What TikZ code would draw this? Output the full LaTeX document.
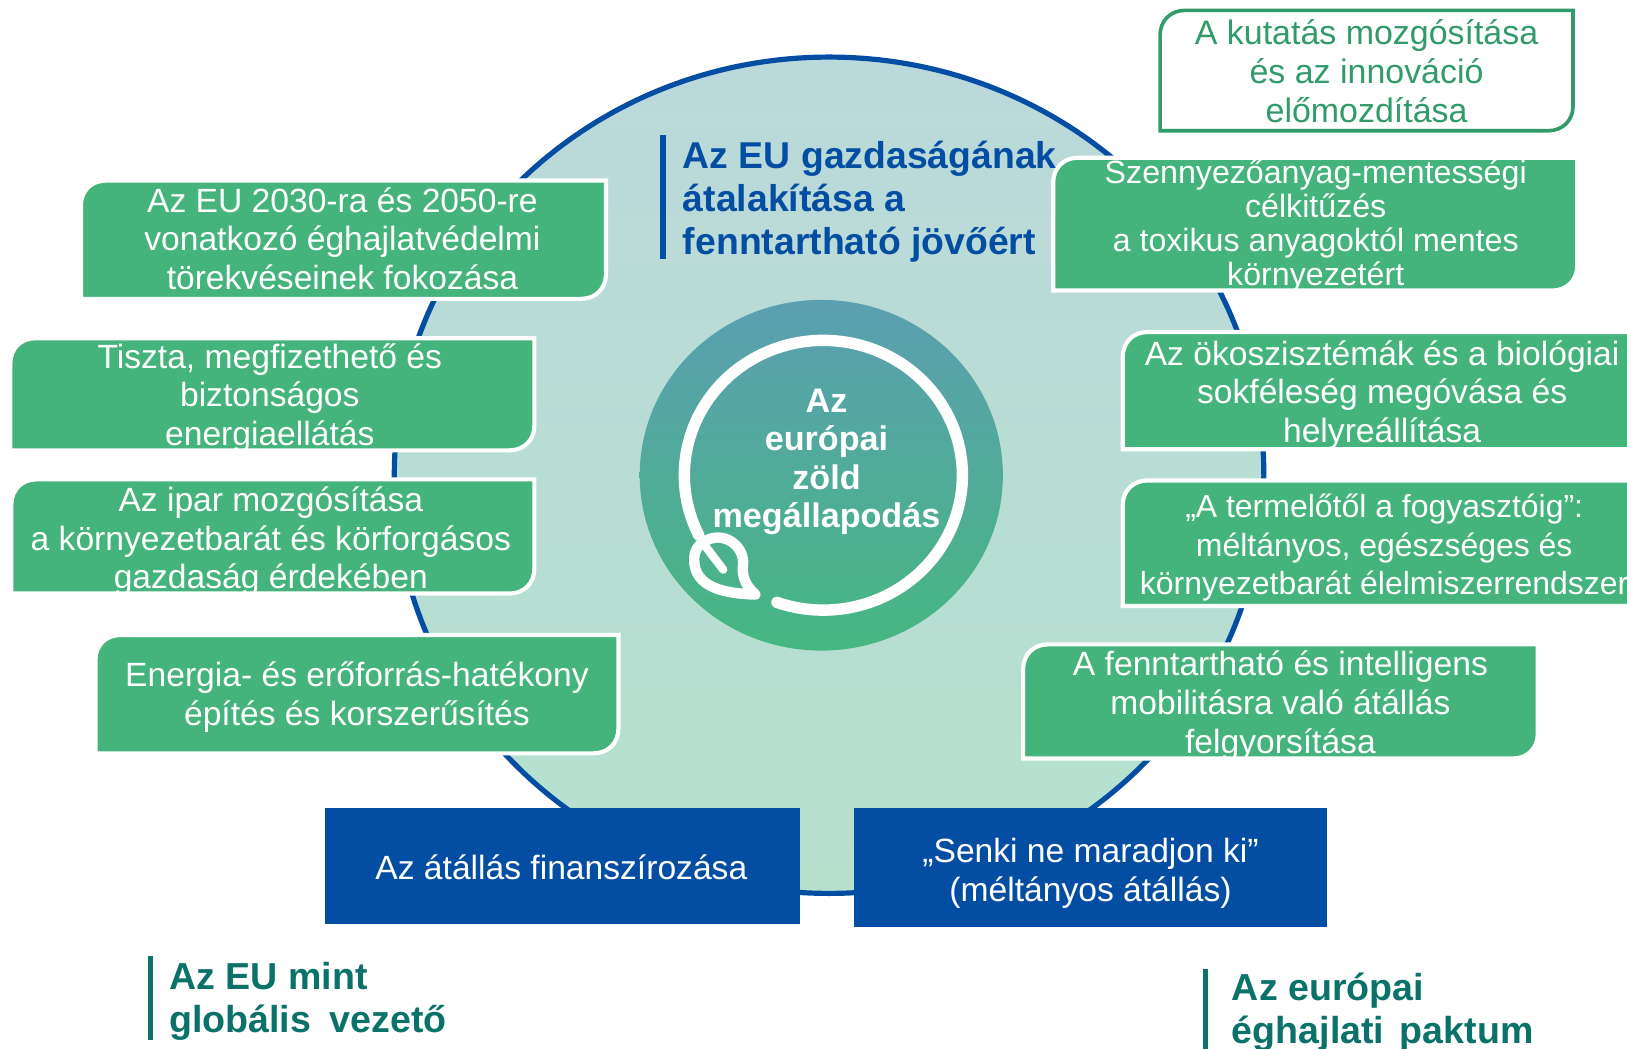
\documentclass[tikz,border=0pt]{standalone}
\usepackage{fontspec}
\setmainfont{Liberation Sans}
\definecolor{gbox}{HTML}{44B37C}
\definecolor{eublue}{HTML}{034EA2}
\definecolor{tealt}{HTML}{0A7268}
\definecolor{gline}{HTML}{319B6A}
\definecolor{bigtop}{HTML}{BBD9DB}
\definecolor{bigbot}{HTML}{B5E1CD}
\definecolor{smalltop}{HTML}{5B9FB1}
\definecolor{smallbot}{HTML}{46B781}
\tikzset{
  boxtxt/.style={align=center,inner sep=0pt,text=white,font=\fontsize{32.4}{37.2}\selectfont},
  headtxt/.style={align=left,inner sep=0pt,anchor=north west,font=\bfseries\fontsize{36.2}{41.5}\selectfont},
  greenshape/.style={fill=gbox,draw=white,line width=4pt},
  whiteshape/.style={fill=white,draw=gline,line width=3.5pt},
  bluebox/.style={fill=eublue},
  bar/.style={line width=5pt},
  ringline/.style={draw=white,line width=11pt,line cap=round,line join=round}
}
\newcommand\softbox[5]{\path[#5] (#1,#2+24) .. controls (#1,#2+10) and (#1+10,#2) .. (#1+24,#2) -- (#3,#2) -- (#3,#4-24) .. controls (#3,#4-10) and (#3-10,#4) .. (#3-24,#4) -- (#1,#4) -- cycle;}
\newcommand\greenbox[8]{\softbox{#2}{#3}{#4}{#5}{greenshape}
  \begin{scope}\clip (#2,#3) rectangle (1568,#5-2);\node[boxtxt] (#1) at (#6,#7) {#8};\end{scope}}
\begin{document}
\begin{tikzpicture}[x=1pt,y=-1pt]
\useasboundingbox (0,0) rectangle (1568,1010);
\fill[white] (0,0) rectangle (1568,1010);
% big disc
\shade[top color=bigtop,bottom color=bigbot] (799,458) ellipse [x radius=419,y radius=403];
\draw[eublue,line width=5pt] (799,458) ellipse [x radius=419,y radius=403];
% inner disc
\shade[top color=smalltop,bottom color=smallbot] (791.5,458) ellipse [x radius=175,y radius=169];
% ring and leaf
\draw[ringline] plot[smooth,domain=-206.4:109.5,samples=120] ({793.5+134*cos(\x)},{458+130*sin(\x)});
\draw[ringline,line width=10pt] (728,573) .. controls (700,572) and (668,567) .. (669,538) .. controls (669,525) and (682,518) .. (692,518) .. controls (705,518) and (718,530) .. (716,545) .. controls (715,555) and (718,564) .. (728,573) -- cycle;
\draw[ringline,line width=8pt] (678,524) -- (697,549);
\node[align=center,inner sep=0pt,text=white,font=\bfseries\fontsize{32.9}{37}\selectfont] (title) at (796.5,445) {Az\\európai\\zöld\\megállapodás};
% top right box
\softbox{1118}{10}{1516}{126}{whiteshape}
\node[boxtxt,text=gline,font=\fontsize{32.7}{37.2}\selectfont] (kutatas) at (1317,68.5) {A kutatás mozgósítása\\és az innováció\\előmozdítása};
% left boxes
\greenbox{b1}{78}{174}{584}{288}{330}{230}{Az EU 2030-ra és 2050-re\\vonatkozó éghajlatvédelmi\\törekvéseinek fokozása}
\greenbox{b2}{10}{326}{515}{434}{260}{383.5}{Tiszta, megfizethető és\\biztonságos\\energiaellátás}
\greenbox{b3}{11}{462}{515}{572}{261}{521.5}{Az ipar mozgósítása\\a környezetbarát és körforgásos\\gazdaság érdekében}
\greenbox{b4}{92}{612}{596}{726}{344}{672}{Energia- és erőforrás-hatékony\\építés és korszerűsítés}
% right boxes
\softbox{1015}{152}{1520}{280}{greenshape}
\begin{scope}\clip (1015,152) rectangle (1568,278);
\node[boxtxt,font=\fontsize{31}{32.8}\selectfont] (b5) at (1268,218) {Szennyezőanyag-mentességi\\célkitűzés\\a toxikus anyagoktól mentes\\környezetért};
\end{scope}
\greenbox{b6}{1082}{320}{1600}{433}{1332}{380.5}{Az ökoszisztémák és a biológiai\\sokféleség megóvása és\\helyreállítása}
\softbox{1082}{463}{1600}{584}{greenshape}
\node[boxtxt,font=\fontsize{30.8}{37.2}\selectfont] (b7) at (1334,528) {„A termelőtől a fogyasztóig”:\\méltányos, egészséges és\\környezetbarát élelmiszerrendszer};
\greenbox{b8}{986}{621}{1482}{731}{1234}{680}{A fenntartható és intelligens\\mobilitásra való átállás\\felgyorsítása}
% blue boxes
\path[bluebox] (313,779) rectangle (771,890);
\node[boxtxt] (fin) at (541,836) {Az átállás finanszírozása};
\path[bluebox] (823,779) rectangle (1279,893);
\node[boxtxt] (senki) at (1051,841.5) {„Senki ne maradjon ki”\\(méltányos átállás)};
% headings
\coordinate (h1a) at (639,130); \coordinate (h1b) at (639,250);
\draw[bar,eublue] (h1a) -- (h1b);
\node[headtxt,text=eublue,font=\bfseries\fontsize{36}{41.5}\selectfont] (h1) at (658,135.5) {Az EU gazdaságának\\átalakítása a\\fenntartható jövőért};
\coordinate (h2a) at (145,921); \coordinate (h2b) at (145,1002);
\draw[bar,tealt] (h2a) -- (h2b);
\node[headtxt,text=tealt] (h2) at (163,927.5) {Az EU mint\\globális\hspace{8pt} vezető};
\coordinate (h3a) at (1162,934); \coordinate (h3b) at (1162,1012);
\draw[bar,tealt] (h3a) -- (h3b);
\node[headtxt,text=tealt] (h3) at (1187,937.5) {Az európai\\éghajlati\hspace{5pt} paktum};
\end{tikzpicture}
\end{document}
